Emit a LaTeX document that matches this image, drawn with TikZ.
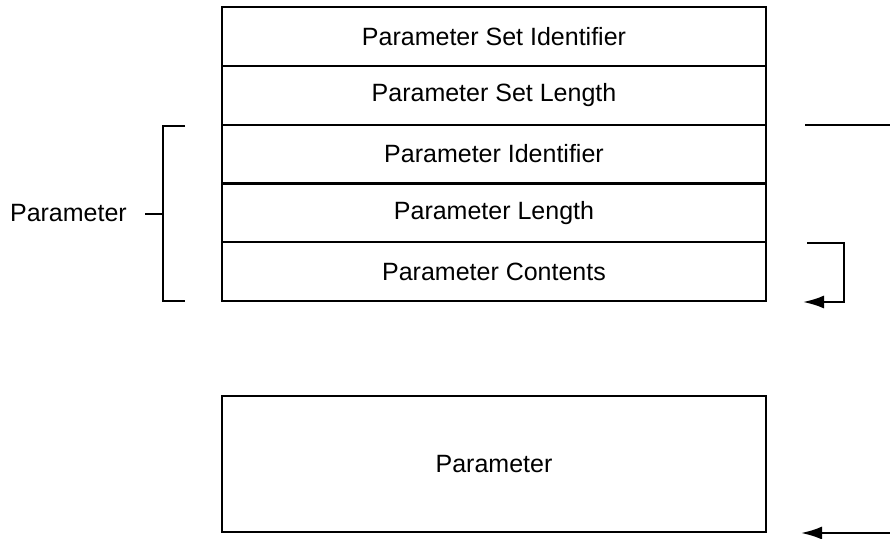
\documentclass[tikz,border=0pt]{standalone}
\usepackage{fontspec}
\setmainfont{Liberation Sans}
\usetikzlibrary{arrows.meta,calc}
\begin{document}
\begin{tikzpicture}[x=1pt,y=-1pt,
  rowbox/.style={draw,line width=2.2pt,minimum width=544pt,minimum height=58.8pt,inner sep=0pt,font=\fontsize{25}{30}\selectfont},
  bigbox/.style={draw,line width=2.2pt,minimum width=544pt,minimum height=136pt,inner sep=0pt,font=\fontsize{25}{30}\selectfont},
  lbl/.style={inner sep=0pt,font=\fontsize{25}{30}\selectfont},
  ln/.style={line width=2.2pt},
  arr/.style={line width=2.2pt,-{Latex[length=21pt,width=13pt]}}]
\useasboundingbox (0,0) rectangle (890,538);
\node[rowbox] (r1) at (494,36.4) {Parameter Set Identifier};
\node[rowbox] (r2) at (494,95.2) {Parameter Set Length};
\node[rowbox] (r3) at (494,154.0) {Parameter Identifier};
\node[rowbox] (r4) at (494,212.8) {Parameter Length};
\node[rowbox] (r5) at (494,271.6) {Parameter Contents};
\node[bigbox] (pb) at (494,464) {Parameter};
\node[lbl,anchor=east] (pl) at (127,213) {Parameter};
% left bracket
\coordinate (bt) at (163,126);
\coordinate (bb) at (163,301);
\coordinate (bm) at (163,214);
\coordinate (btt) at (185,126);
\coordinate (bbt) at (185,301);
\draw[ln] (btt) -- (bt) -- (bb) -- (bbt);
\draw[ln] ([xshift=18pt]pl.east |- bm) -- (bm);
% right side
\coordinate (rl1) at (805,125);
\coordinate (rl2) at (890,125);
\draw[ln] (rl1) -- (rl2);
\coordinate (ra1) at (807,243);
\coordinate (ra2) at (844,243);
\coordinate (ra3) at (844,302);
\coordinate (ra4) at (803,302);
\draw[arr] (ra1) -- (ra2) -- (ra3) -- (ra4);
\coordinate (rb1) at (890,533);
\coordinate (rb2) at (801,533);
\draw[arr] (rb1) -- (rb2);
\end{tikzpicture}
\end{document}
